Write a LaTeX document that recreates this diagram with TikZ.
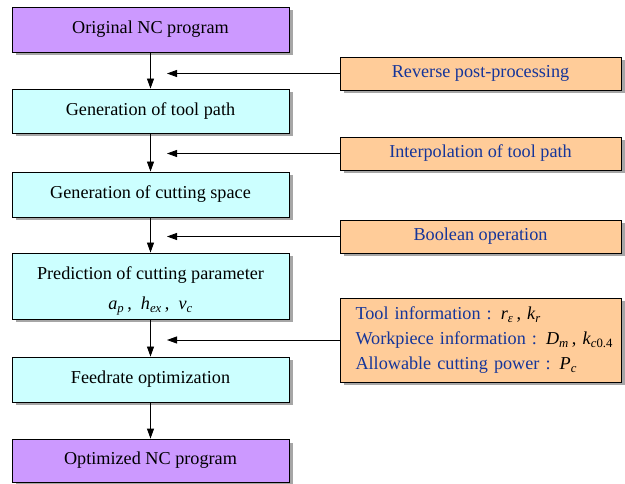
\documentclass[tikz,border=0pt]{standalone}
\usepackage{fontspec}
\setmainfont{Liberation Serif}
\usetikzlibrary{arrows.meta,shadows}
\definecolor{purp}{HTML}{CC99FF}
\definecolor{cyanbox}{HTML}{CCFFFF}
\definecolor{orangebox}{HTML}{FFCC99}
\definecolor{bluetxt}{HTML}{15359A}
\newcommand{\vsub}[2]{\textit{#1}\textsubscript{\textit{#2}}}
\begin{document}
\begin{tikzpicture}[x=1pt,y=-1pt,
  base/.style={draw=black, line width=0.9pt, rectangle, inner sep=0pt,
    drop shadow={shadow xshift=3.5pt, shadow yshift=-3.5pt, fill=black!35, opacity=1},
    font=\fontsize{18.2}{25}\selectfont},
  leftbox/.style={base, minimum width=277pt},
  purpbox/.style={leftbox, fill=purp},
  cyanb/.style={leftbox, fill=cyanbox},
  orbox/.style={base, fill=orangebox, minimum width=281pt, text=bluetxt},
  arr/.style={draw=black, line width=0.9pt, -{Triangle[length=10pt,width=7pt]}}
]
\useasboundingbox (0,0) rectangle (625,484);
% left column
\node[purpbox, minimum height=45pt] (b1) at (150.5,29.5) {Original NC program};
\node[cyanb, minimum height=44pt] (b2) at (150.5,111) {Generation of tool path};
\node[cyanb, minimum height=45pt] (b3) at (150.5,194.5) {Generation of cutting space};
\node[cyanb, minimum height=66pt, align=center] (b4) at (150.5,286)
  {\rule{0pt}{23pt}Prediction of cutting parameter\\[5pt] \vsub{a}{p}\,,\ \ \vsub{h}{ex}\,,\ \ \vsub{v}{c}};
\node[cyanb, minimum height=45pt] (b5) at (150.5,379.5) {Feedrate optimization};
\node[purpbox, minimum height=43pt] (b6) at (150.5,460.5) {Optimized NC program};
% right column
\node[orbox, minimum height=33pt] (oA) at (480.5,73.5) {Reverse post-processing};
\node[orbox, minimum height=33pt] (oB) at (480.5,153.5) {Interpolation of tool path};
\node[orbox, minimum height=33pt] (oC) at (480.5,236.5) {Boolean operation};
\node[orbox, minimum height=84pt, align=left, text width=250pt] (oD) at (480.5,340)
  {\mbox{Tool information : \textcolor{black}{\vsub{r}{ε}\,, \vsub{k}{r}}}\\
   \mbox{Workpiece information : \textcolor{black}{\vsub{D}{m}\,, \textit{k}\textsubscript{\textit{c}0.4}}}\\
   \mbox{Allowable cutting power : \textcolor{black}{\vsub{P}{c}}}};
% targets of horizontal arrows
\coordinate (tA) at (167,73.5);
\coordinate (tB) at (167,153.5);
\coordinate (tC) at (167,236.5);
\coordinate (tD) at (167,340);
% vertical arrows
\draw[arr] (b1) -- (b2);
\draw[arr] (b2) -- (b3);
\draw[arr] (b3) -- (b4);
\draw[arr] (b4) -- (b5);
\draw[arr] (b5) -- (b6);
% horizontal arrows
\draw[arr] (oA.west) -- (tA);
\draw[arr] (oB.west) -- (tB);
\draw[arr] (oC.west) -- (tC);
\draw[arr] (oD.west) -- (tD);
\end{tikzpicture}
\end{document}
